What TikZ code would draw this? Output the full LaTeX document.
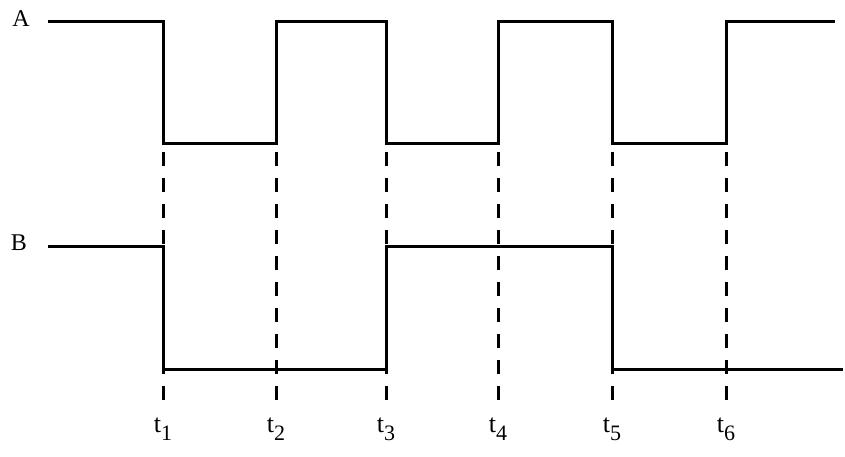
\documentclass[tikz,border=0pt]{standalone}
\usepackage{fontspec}
\setmainfont{Liberation Serif}
\begin{document}
\begin{tikzpicture}[x=1pt,y=-1pt,
every node/.style={font=\fontsize{24}{26}\selectfont},
wave/.style={%
line width=3pt,
line join=miter
},
guide/.style={%
line width=3pt,
dash pattern=on 14pt off 12pt
},
tick/.style={%
anchor=base,
inner sep=0pt,
font=\fontsize{26}{28}\selectfont
}]
\useasboundingbox (0,0) rectangle (845,456);
\foreach \x[count=\i from 1] in {163,276,386,498,612,726}{%
\coordinate (t\i) at (\x,152);
\coordinate (e\i) at (\x,404);
\draw[guide] (t\i) -- (e\i);
\node[tick] (lab\i) at (\x,432) {t\raisebox{-8pt}{\fontsize{22}{24}\selectfont\i}};
}
\node (nameA) at (21,19) {A};
\node (nameB) at (19,243) {B};
\draw[wave] (48,21) -| (163,143) -| (276,21) -| (386,143) -| (498,21) -| (612,143) -| (726,21) -- (835,21);
\draw[wave] (48,246) -| (163,369) -| (386,246) -| (612,369) -- (843,369);
\end{tikzpicture}
\end{document}
